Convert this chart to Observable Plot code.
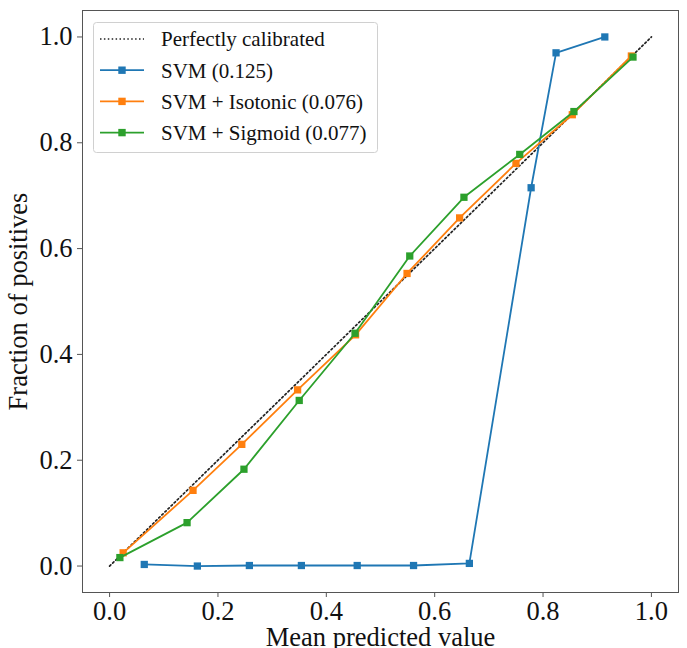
<!DOCTYPE html>
<html>
<head>
<meta charset="utf-8">
<script src="https://cdn.jsdelivr.net/npm/d3@7"></script>
<script src="https://cdn.jsdelivr.net/npm/@observablehq/plot@0.6"></script>
<style>
  html, body { margin: 0; padding: 0; background: white; }
</style>
</head>
<body>
<div id="chart"></div>
<script>
// ---- data ----
const ticks = [0, 0.2, 0.4, 0.6, 0.8, 1.0];
const seriesNames = ["SVM (0.125)", "SVM + Isotonic (0.076)", "SVM + Sigmoid (0.077)"];
const seriesColors = ["#1f77b4", "#ff7f0e", "#2ca02c"];
const diagLabel = "Perfectly calibrated";
const diagX = [0, 1];
const diagY = [0, 1];
const svmX = [0.064, 0.162, 0.258, 0.354, 0.457, 0.561, 0.664, 0.778, 0.824, 0.914];
const svmY = [0.003, 0.000, 0.001, 0.001, 0.001, 0.001, 0.005, 0.715, 0.970, 1.000];
const isoX = [0.025, 0.154, 0.244, 0.347, 0.454, 0.549, 0.646, 0.750, 0.854, 0.963];
const isoY = [0.025, 0.143, 0.230, 0.333, 0.437, 0.553, 0.658, 0.761, 0.853, 0.964];
const sigX = [0.019, 0.143, 0.248, 0.350, 0.453, 0.554, 0.654, 0.757, 0.857, 0.966];
const sigY = [0.016, 0.082, 0.183, 0.313, 0.440, 0.586, 0.697, 0.778, 0.859, 0.962];
const xLabel = "Mean predicted value";
const yLabel = "Fraction of positives";

const toRows = (xs, ys, s) => xs.map((x, i) => ({x, y: ys[i], s}));
const diag = toRows(diagX, diagY, diagLabel);
const svm = toRows(svmX, svmY, seriesNames[0]);
const iso = toRows(isoX, isoY, seriesNames[1]);
const sig = toRows(sigX, sigY, seriesNames[2]);

const FONT = "'Liberation Serif', 'Times New Roman', serif";
const frameColor = "#555";

const chart = Plot.plot({
  width: 687,
  height: 648,
  marginLeft: 82,
  marginRight: 9,
  marginTop: 10,
  marginBottom: 56,
  style: {fontFamily: FONT, background: "white", color: "#111"},
  x: {domain: [-0.05, 1.05]},
  y: {domain: [-0.05, 1.05]},
  marks: [
    Plot.axisX({ticks, tickFormat: d3.format(".1f"), fontSize: 26.5, tickSize: 5, tickPadding: 4, stroke: frameColor,
      label: xLabel, labelAnchor: "center", labelArrow: "none", labelOffset: 53, fill: "#111"}),
    Plot.axisY({ticks, tickFormat: d3.format(".1f"), fontSize: 26.5, tickSize: 5, tickPadding: 5, stroke: frameColor,
      label: yLabel, labelAnchor: "center", labelArrow: "none", labelOffset: 74, fill: "#111"}),
    Plot.frame({stroke: frameColor, strokeWidth: 1}),
    Plot.line(diag, {x: "x", y: "y", stroke: "#222", strokeWidth: 1.7, strokeDasharray: "1.7,2.6"}),
    Plot.line(svm, {x: "x", y: "y", stroke: seriesColors[0], strokeWidth: 1.8}),
    Plot.dot(svm, {x: "x", y: "y", symbol: "square", r: 4.1, fill: seriesColors[0], stroke: "none"}),
    Plot.line(iso, {x: "x", y: "y", stroke: seriesColors[1], strokeWidth: 1.8}),
    Plot.dot(iso, {x: "x", y: "y", symbol: "square", r: 4.1, fill: seriesColors[1], stroke: "none"}),
    Plot.line(sig, {x: "x", y: "y", stroke: seriesColors[2], strokeWidth: 1.8}),
    Plot.dot(sig, {x: "x", y: "y", symbol: "square", r: 4.1, fill: seriesColors[2], stroke: "none"})
  ]
});

// ---- legend (inside the axes, upper left) ----
const svg = d3.select(chart);
const lg = svg.append("g").attr("font-family", FONT).attr("text-anchor", "start");
lg.append("rect")
  .attr("x", 93.5).attr("y", 22.5).attr("width", 284).attr("height", 130)
  .attr("rx", 3).attr("fill", "white").attr("fill-opacity", 0.8)
  .attr("stroke", "#d0d0d0").attr("stroke-width", 1);
const entries = [{label: diagLabel, color: "#222", dotted: true}]
  .concat(seriesNames.map((n, i) => ({label: n, color: seriesColors[i], dotted: false})));
entries.forEach((e, i) => {
  const cy = 39 + i * 31.2;
  lg.append("line").attr("x1", 100).attr("x2", 144).attr("y1", cy).attr("y2", cy)
    .attr("stroke", e.color).attr("stroke-width", e.dotted ? 1.5 : 1.8)
    .attr("stroke-dasharray", e.dotted ? "1.5,2.4" : null);
  if (!e.dotted) {
    lg.append("rect").attr("x", 122 - 3.7).attr("y", cy - 3.7).attr("width", 7.4).attr("height", 7.4)
      .attr("fill", e.color);
  }
  lg.append("text").attr("x", 161).attr("y", cy).attr("dy", "0.35em")
    .attr("text-anchor", "start")
    .attr("font-size", 21).attr("fill", "#111")
    .text(e.label);
});

document.getElementById("chart").appendChild(chart);
</script>
</body>
</html>
